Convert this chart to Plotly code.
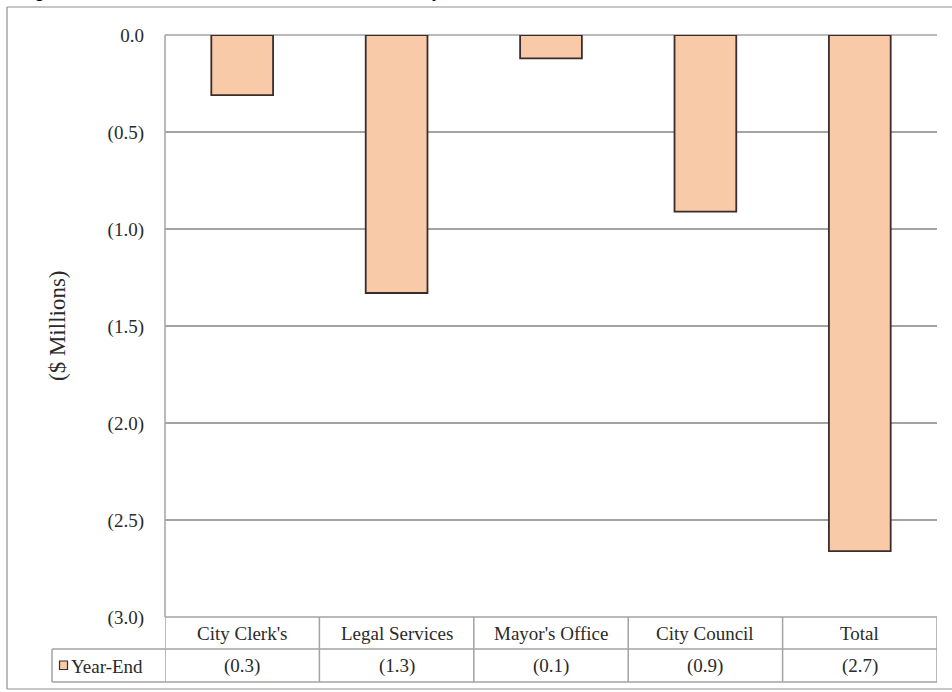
import plotly.graph_objects as go

# ---- data ----
categories = ["City Clerk's", "Legal Services", "Mayor's Office", "City Council", "Total"]
year_end = [-0.31, -1.33, -0.12, -0.91, -2.66]
value_labels = ["(0.3)", "(1.3)", "(0.1)", "(0.9)", "(2.7)"]
series_name = "Year-End"
y_tickvals = [0, -0.5, -1.0, -1.5, -2.0, -2.5, -3.0]
y_ticktext = ["0.0", "(0.5)", "(1.0)", "(1.5)", "(2.0)", "(2.5)", "(3.0)"]
y_title = "($ Millions)"
title_text = "Figure 3: Elected Officials Year-End Variance by Office"

# ---- layout geometry (pixels) ----
W, H = 952, 692
L, R, T, B = 165, 15, 35, 75
PX0, PX1 = L, W - R
PY0, PY1 = T, H - B
PW, PH = PX1 - PX0, PY1 - PY0


def px(x):
    return (x - PX0) / PW


def py(y):
    return (PY1 - y) / PH


SERIF = "Liberation Serif, Times New Roman, serif"
TXT = "#2a2a2a"
GRID = "#a3a3a3"
BAR_FILL = "#F8CAA8"
BAR_LINE = "#3a2c2c"

fig = go.Figure()
fig.add_trace(go.Bar(
    x=categories, y=year_end, name=series_name, width=0.4,
    marker=dict(color=BAR_FILL, line=dict(color=BAR_LINE, width=1.8)),
    showlegend=False, hoverinfo="x+y",
))

shapes = []
# top gridline (0.0)
shapes.append(dict(type="line", xref="paper", yref="paper", x0=0, x1=1, y0=1, y1=1,
                   line=dict(color=GRID, width=1.5), layer="below"))
# table horizontal lines
shapes.append(dict(type="line", xref="paper", yref="paper", x0=0, x1=1, y0=py(617), y1=py(617),
                   line=dict(color=GRID, width=1.5)))
for yy in (649, 682):
    shapes.append(dict(type="line", xref="paper", yref="paper", x0=px(52), x1=1, y0=py(yy), y1=py(yy),
                       line=dict(color=GRID, width=1.5)))
# table vertical lines at category boundaries
for i in range(len(categories) + 1):
    shapes.append(dict(type="line", xref="x", yref="paper", x0=i - 0.5, x1=i - 0.5,
                       y0=py(617), y1=py(682), line=dict(color=GRID, width=1.5)))
# left axis line through plot
shapes.append(dict(type="line", xref="paper", yref="paper", x0=0, x1=0, y0=py(617), y1=1,
                   line=dict(color=GRID, width=1.5)))
# legend-key cell left edge
shapes.append(dict(type="line", xref="paper", yref="paper", x0=px(52), x1=px(52),
                   y0=py(649), y1=py(682), line=dict(color=GRID, width=1.5)))
# legend key square
shapes.append(dict(type="rect", xref="paper", yref="paper", x0=px(59.5), x1=px(67.5),
                   y0=py(669.5), y1=py(661), fillcolor=BAR_FILL, line=dict(color=BAR_LINE, width=1.2)))
# outer chart frame
frame = dict(color="#8f8f8f", width=1.2)
shapes.append(dict(type="line", xref="paper", yref="paper", x0=px(7), x1=px(960), y0=py(7), y1=py(7), line=frame))
shapes.append(dict(type="line", xref="paper", yref="paper", x0=px(7), x1=px(7), y0=py(7), y1=py(689), line=frame))
shapes.append(dict(type="line", xref="paper", yref="paper", x0=px(7), x1=px(960), y0=py(689), y1=py(689), line=frame))

annotations = []
for cat, lab in zip(categories, value_labels):
    annotations.append(dict(x=cat, xref="x", y=py(633.5), yref="paper", text=cat, showarrow=False,
                            xanchor="center", yanchor="middle", font=dict(family=SERIF, size=19, color=TXT)))
    annotations.append(dict(x=cat, xref="x", y=py(666), yref="paper", text=lab, showarrow=False,
                            xanchor="center", yanchor="middle", font=dict(family=SERIF, size=19, color=TXT)))
annotations.append(dict(x=px(69), xref="paper", y=py(666), yref="paper", text=series_name, showarrow=False,
                        xanchor="left", yanchor="middle", font=dict(family=SERIF, size=19, color=TXT)))
annotations.append(dict(x=px(57), xref="paper", y=py(326), yref="paper", text=y_title, showarrow=False,
                        textangle=-90, xanchor="center", yanchor="middle",
                        font=dict(family=SERIF, size=23, color=TXT)))
annotations.append(dict(x=px(15), xref="paper", y=py(3), yref="paper", text=title_text, showarrow=False,
                        xanchor="left", yanchor="bottom",
                        font=dict(family="Liberation Sans, Arial, sans-serif", size=20, color="#000000")))

fig.update_layout(
    width=W, height=H,
    margin=dict(l=L, r=R, t=T, b=B, pad=0),
    paper_bgcolor="white", plot_bgcolor="white",
    xaxis=dict(type="category", categoryorder="array", categoryarray=categories,
               range=[-0.5, len(categories) - 0.5], showticklabels=False, showgrid=False,
               zeroline=False, showline=False, ticks=""),
    yaxis=dict(range=[-3, 0], tickvals=y_tickvals, ticktext=y_ticktext, showgrid=True,
               gridcolor=GRID, gridwidth=1.5, zeroline=False, showline=False, ticks="",
               ticklabelstandoff=20,
               tickfont=dict(family=SERIF, size=19, color=TXT)),
    shapes=shapes, annotations=annotations,
    bargap=0.6,
)

fig.write_html("out.html")
